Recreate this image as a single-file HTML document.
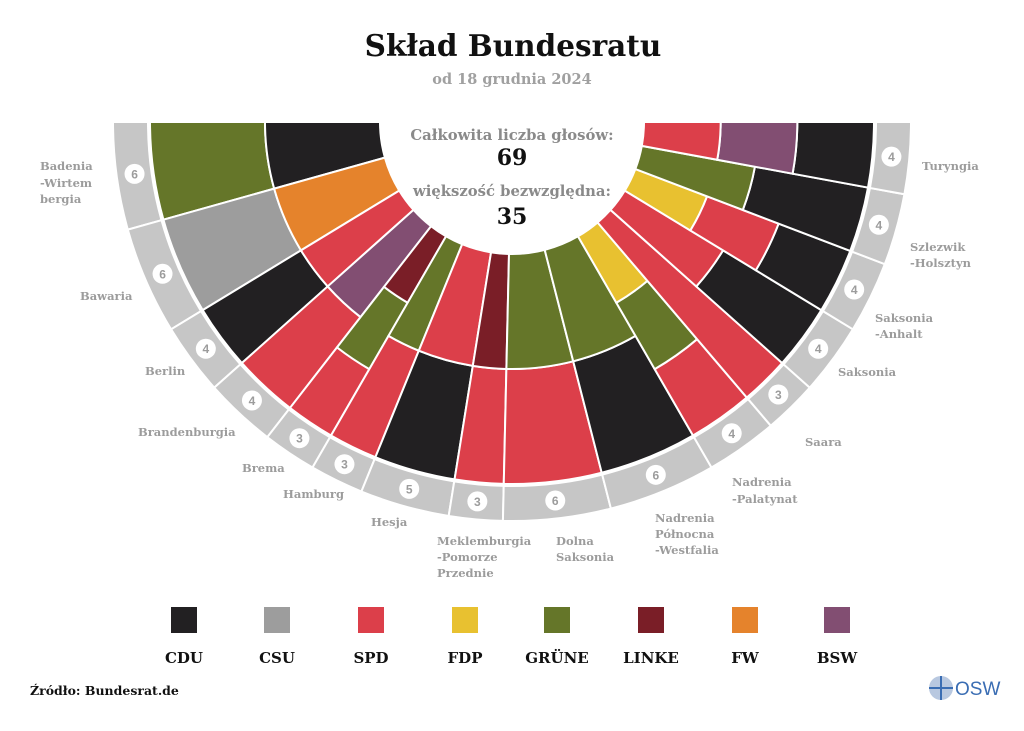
<!DOCTYPE html>
<html><head><meta charset="utf-8">
<style>
body{margin:0;background:#fff;}
svg{display:block;}
text{font-family:"DejaVu Serif","Liberation Serif",serif;font-weight:bold;}
.lab{fill:#9c9c9c;font-size:11.5px;}
.leg{fill:#111;font-size:15px;}
</style></head>
<body>
<svg id="s" width="1024" height="731" viewBox="0 0 1024 731" xmlns="http://www.w3.org/2000/svg">
<text x="513" y="56" text-anchor="middle" font-size="29.5" fill="#111">Skład Bundesratu</text>
<text x="512" y="84" text-anchor="middle" font-size="14.5" fill="#a0a0a0">od 18 grudnia 2024</text>
<g id="chart"></g>
<text x="512" y="140" text-anchor="middle" font-size="14.8" fill="#8a8a8a">Całkowita liczba głosów:</text>
<text x="512" y="165" text-anchor="middle" font-size="22" fill="#111">69</text>
<text x="512" y="196" text-anchor="middle" font-size="14.8" fill="#8a8a8a">większość bezwzględna:</text>
<text x="512" y="224" text-anchor="middle" font-size="22" fill="#111">35</text>
<g class="lab">
<text x="40" y="170" class="lab">Badenia</text><text x="40" y="187" class="lab">-Wirtem</text><text x="40" y="203" class="lab">bergia</text>
<text x="80" y="300" class="lab">Bawaria</text>
<text x="145" y="375" class="lab">Berlin</text>
<text x="138" y="436" class="lab">Brandenburgia</text>
<text x="242" y="472" class="lab">Brema</text>
<text x="283" y="498" class="lab">Hamburg</text>
<text x="371" y="526" class="lab">Hesja</text>
<text x="437" y="545" class="lab">Meklemburgia</text><text x="437" y="561" class="lab">-Pomorze</text><text x="437" y="577" class="lab">Przednie</text>
<text x="556" y="545" class="lab">Dolna</text><text x="556" y="561" class="lab">Saksonia</text>
<text x="655" y="522" class="lab">Nadrenia</text><text x="655" y="538" class="lab">Północna</text><text x="655" y="554" class="lab">-Westfalia</text>
<text x="732" y="486" class="lab">Nadrenia</text><text x="732" y="503" class="lab">-Palatynat</text>
<text x="805" y="446" class="lab">Saara</text>
<text x="838" y="376" class="lab">Saksonia</text>
<text x="875" y="322" class="lab">Saksonia</text><text x="875" y="338" class="lab">-Anhalt</text>
<text x="910" y="251" class="lab">Szlezwik</text><text x="910" y="267" class="lab">-Holsztyn</text>
<text x="922" y="170" class="lab">Turyngia</text>
</g>
<g id="legend"></g>
<text x="30" y="695" font-size="12.5" fill="#111">Źródło: Bundesrat.de</text>
<circle cx="941" cy="688" r="12" fill="#b8c8e0"/>
<path d="M929 688 H953 M941 676 V700" stroke="#3a6db3" stroke-width="2"/>
<text x="955" y="695" font-size="19" fill="#3a6db3" style="font-family:'Liberation Sans',sans-serif;font-weight:normal">OSW</text>
</svg>
<script>
var C={CDU:"#222022",CSU:"#9d9d9d",SPD:"#dc3f4a",FDP:"#e8c130",GRUNE:"#657629",LINKE:"#7a1e27",FW:"#e5832c",BSW:"#824e72"};
var S=[[6,["GRUNE","CDU"]],[6,["CSU","FW"]],[4,["CDU","SPD"]],[4,["SPD","BSW"]],[3,["SPD","GRUNE","LINKE"]],[3,["SPD","GRUNE"]],[5,["CDU","SPD"]],[3,["SPD","LINKE"]],[6,["SPD","GRUNE"]],[6,["CDU","GRUNE"]],[4,["SPD","GRUNE","FDP"]],[3,["SPD"]],[4,["CDU","SPD"]],[4,["CDU","SPD","FDP"]],[4,["CDU","GRUNE"]],[4,["CDU","BSW","SPD"]]];
var cx=512,cy=122;
function P(t,r){return [(cx-r*Math.cos(t)).toFixed(2),(cy+r*Math.sin(t)).toFixed(2)];}
function sec(a0,a1,r0,r1){var p1=P(a0,r1),p2=P(a1,r1),p3=P(a1,r0),p4=P(a0,r0);var lg=(a1-a0)>Math.PI?1:0;
return "M"+p1+" A"+r1+","+r1+" 0 "+lg+" 0 "+p2+" L"+p3+" A"+r0+","+r0+" 0 "+lg+" 1 "+p4+"Z";}
var g=document.getElementById("chart"),h="";
var cum=0;
S.forEach(function(s){var a0=cum/69*Math.PI;cum+=s[0];var a1=cum/69*Math.PI;
h+='<path d="'+sec(a0,a1,364,399)+'" fill="#c6c6c6" stroke="#fff" stroke-width="2"/>';
var n=s[1].length,w=230/n;
s[1].forEach(function(p,i){h+='<path d="'+sec(a0,a1,362-(i+1)*w,362-i*w)+'" fill="'+C[p]+'" stroke="#fff" stroke-width="2"/>';});
var m=P((a0+a1)/2,381);
h+='<circle cx="'+m[0]+'" cy="'+m[1]+'" r="10" fill="#fff"/><text x="'+m[0]+'" y="'+(+m[1]+4.5)+'" text-anchor="middle" font-size="12" fill="#9c9c9c" style="font-family:\'Liberation Sans\',sans-serif;font-weight:bold">'+s[0]+'</text>';
});
h+='<rect x="0" y="100" width="1024" height="21" fill="#fff"/>';
g.innerHTML=h;
var L=[["CDU","CDU",184],["CSU","CSU",277],["SPD","SPD",371],["FDP","FDP",465],["GRUNE","GRÜNE",557],["LINKE","LINKE",651],["FW","FW",745],["BSW","BSW",837]],lh="";
L.forEach(function(l){lh+='<rect x="'+(l[2]-13)+'" y="607" width="26" height="26" fill="'+C[l[0]]+'"/><text x="'+l[2]+'" y="663" text-anchor="middle" class="leg">'+l[1]+'</text>';});
document.getElementById("legend").innerHTML=lh;
</script>
</body></html>
